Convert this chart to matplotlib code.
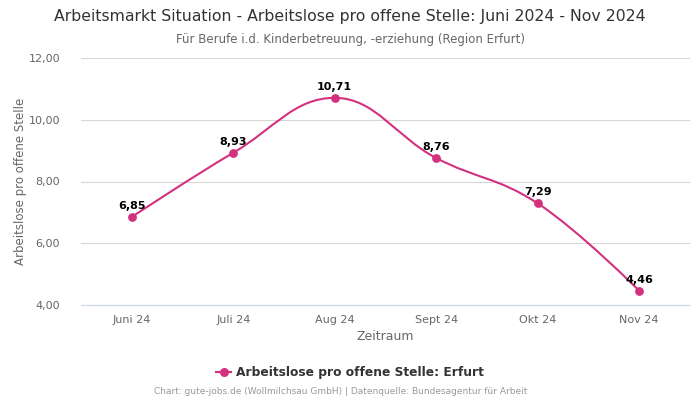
import matplotlib
matplotlib.use("Agg")
import matplotlib.pyplot as plt
from matplotlib.path import Path
from matplotlib.patches import PathPatch
from matplotlib.lines import Line2D
import numpy as np

months = ["Juni 24", "Juli 24", "Aug 24", "Sept 24", "Okt 24", "Nov 24"]
values = [6.85, 8.93, 10.71, 8.76, 7.29, 4.46]
labels = ["6,85", "8,93", "10,71", "8,76", "7,29", "4,46"]
y_ticks = [4, 6, 8, 10, 12]
y_tick_labels = ["4,00", "6,00", "8,00", "10,00", "12,00"]

title = "Arbeitsmarkt Situation - Arbeitslose pro offene Stelle: Juni 2024 - Nov 2024"
subtitle = "Für Berufe i.d. Kinderbetreuung, -erziehung (Region Erfurt)"
series_name = "Arbeitslose pro offene Stelle: Erfurt"
credits = "Chart: gute-jobs.de (Wollmilchsau GmbH) | Datenquelle: Bundesagentur für Arbeit"

color = "#d3307e"


def spline_path(xs, ys, smoothing=1.5):
    # Highcharts-like spline control points
    denom = smoothing + 1
    n = len(xs)
    conts = []
    for i in range(n):
        if i == 0 or i == n - 1:
            conts.append(None)
            continue
        px, py = xs[i], ys[i]
        lx, ly = xs[i - 1], ys[i - 1]
        nx, ny = xs[i + 1], ys[i + 1]
        lcx = (smoothing * px + lx) / denom
        lcy = (smoothing * py + ly) / denom
        rcx = (smoothing * px + nx) / denom
        rcy = (smoothing * py + ny) / denom
        if rcx != lcx:
            corr = ((rcy - lcy) * (rcx - px)) / (rcx - lcx) + py - rcy
            lcy += corr
            rcy += corr
        if lcy > ly and lcy > py:
            lcy = max(ly, py)
            rcy = 2 * py - lcy
        elif lcy < ly and lcy < py:
            lcy = min(ly, py)
            rcy = 2 * py - lcy
        if rcy > ny and rcy > py:
            rcy = max(ny, py)
            lcy = 2 * py - rcy
        elif rcy < ny and rcy < py:
            rcy = min(ny, py)
            lcy = 2 * py - rcy
        conts.append(((lcx, lcy), (rcx, rcy)))
    verts = [(xs[0], ys[0])]
    codes = [Path.MOVETO]
    for i in range(1, n):
        c1 = conts[i - 1][1] if conts[i - 1] else (xs[i - 1], ys[i - 1])
        c2 = conts[i][0] if conts[i] else (xs[i], ys[i])
        verts += [c1, c2, (xs[i], ys[i])]
        codes += [Path.CURVE4] * 3
    return Path(verts, codes)


fig = plt.figure(figsize=(7, 4), dpi=100)
ax = fig.add_axes([0.1157, 0.2375, 0.87, 0.6175])

x = np.arange(len(months))
ax.add_patch(PathPatch(spline_path(list(x), values), facecolor="none",
                       edgecolor=color, lw=1.5, zorder=3))
ax.scatter(x, values, s=28, color=color, zorder=4)
for xi, v, lab in zip(x, values, labels):
    ax.annotate(lab, (xi, v), xytext=(0, 4.5), textcoords="offset points",
                ha="center", va="bottom", fontsize=8, fontweight="bold",
                color="black", zorder=5)

ax.set_xlim(-0.5, len(months) - 0.5)
ax.set_ylim(4, 12)
ax.set_xticks(x)
ax.set_xticklabels(months)
ax.set_yticks(y_ticks)
ax.set_yticklabels(y_tick_labels)
ax.tick_params(axis="both", length=0, labelsize=8, colors="#666666")
ax.tick_params(axis="x", pad=7)
ax.tick_params(axis="y", pad=15)
ax.grid(axis="y", color="#d6d6d6", lw=0.8)
ax.set_axisbelow(True)
for s in ["top", "right", "left"]:
    ax.spines[s].set_visible(False)
ax.spines["bottom"].set_color("#ccd6eb")

ax.set_xlabel("Zeitraum", fontsize=9, color="#666666", labelpad=4)
ax.set_ylabel("Arbeitslose pro offene Stelle", fontsize=8.5, color="#666666", labelpad=1)

fig.text(0.5, 0.958, title, ha="center", va="center", fontsize=11.3, color="#333333")
fig.text(0.5, 0.902, subtitle, ha="center", va="center", fontsize=8.5, color="#666666")

handle = Line2D([0], [0], color=color, lw=1.5, marker="o", markersize=5.5)
fig.legend([handle], [series_name], loc="center", bbox_to_anchor=(0.5, 0.068),
           frameon=False, prop={"size": 8.8, "weight": "bold"}, labelcolor="#333333",
           handlelength=1.2, handletextpad=0.4)

fig.text(0.486, 0.02, credits, ha="center", va="center", fontsize=6.5, color="#999999")

fig.savefig("out.png", dpi=100)
